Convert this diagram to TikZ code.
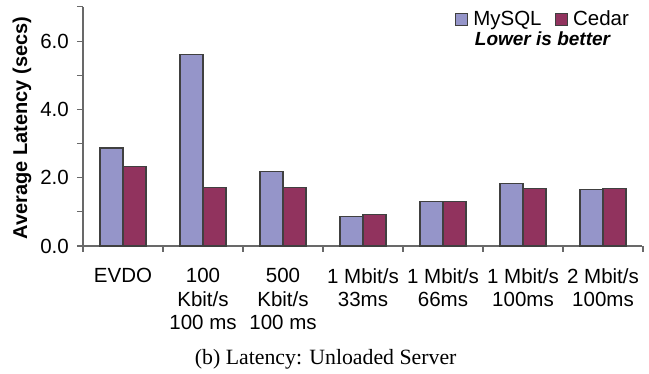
\documentclass[tikz,border=0pt]{standalone}
\usepackage{fontspec}
\setmainfont{Liberation Serif}
\setsansfont{Liberation Sans}
\usetikzlibrary{positioning}
\definecolor{mysqlcol}{RGB}{149,149,201}
\definecolor{cedarcol}{RGB}{145,51,94}
\definecolor{axiscol}{RGB}{105,105,105}

\begin{document}
\begin{tikzpicture}[x=1pt,y=1pt,
  chartfont/.style={font=\sffamily\fontsize{20.5}{23.5}\selectfont},
  catlabel/.style={chartfont,align=center,anchor=north,inner sep=0pt},
  barbox/.style={draw=black!75,line width=1.1pt},
  keybox/.style={draw=black!75,line width=1.1pt,minimum size=12pt,inner sep=0pt}]
  \useasboundingbox (-83,-128) rectangle (566,246);
  % axes
  \draw[axiscol,line width=1.2pt] (0,239) -- (0,0) -- (559,0);
  \foreach \v in {0,...,7}
    \draw[axiscol,line width=1.1pt] (-6,\v*34.15) -- (0,\v*34.15);
  \foreach \v in {0,2,4,6}
    \node[chartfont,anchor=east,inner sep=0pt] (tick\v) at (-14,\v*34.15) {\v.0};
  \foreach \i in {0,...,7}
    \draw[axiscol,line width=1.1pt] (\i*80,0) -- (\i*80,-6);
  \node[chartfont,font=\sffamily\bfseries\fontsize{20}{24}\selectfont,rotate=90] (ylabel) at (-61,118) {Average Latency (secs)};
  % bars: index / MySQL / Cedar
  \foreach \i/\m/\c in {0/2.87/2.34, 1/5.60/1.71, 2/2.17/1.70, 3/0.86/0.93,
                        4/1.29/1.30, 5/1.83/1.68, 6/1.65/1.69} {
    \draw[barbox,fill=mysqlcol] (\i*80+17,0) rectangle (\i*80+40,\m*34.15);
    \draw[barbox,fill=cedarcol] (\i*80+40,0) rectangle (\i*80+63,\c*34.15);
  }
  % categories
  \node[catlabel] (cat0) at (40,-22) {EVDO};
  \node[catlabel] (cat1) at (120,-22) {100\\Kbit/s\\100 ms};
  \node[catlabel] (cat2) at (200,-22) {500\\Kbit/s\\100 ms};
  \node[catlabel] (cat3) at (280,-22) {1 Mbit/s\\33ms};
  \node[catlabel] (cat4) at (360,-22) {1 Mbit/s\\66ms};
  \node[catlabel] (cat5) at (440,-22) {1 Mbit/s\\100ms};
  \node[catlabel] (cat6) at (520,-22) {2 Mbit/s\\100ms};
  % legend
  \node[keybox,fill=mysqlcol] (keymysql) at (378.5,226.8) {};
  \node[chartfont,anchor=base west,inner sep=0pt] (txtmysql) at ([xshift=5pt]keymysql.south east) {MySQL};
  \node[keybox,fill=cedarcol,anchor=south west] (keycedar) at ([xshift=13pt]keymysql.south -| txtmysql.east) {};
  \node[chartfont,anchor=base west,inner sep=0pt] (txtcedar) at ([xshift=5pt]keycedar.south east) {Cedar};
  \node[font=\sffamily\bfseries\itshape\fontsize{19}{22}\selectfont,anchor=base,inner sep=0pt] (better) at (459.5,200.3) {Lower is better};
  % caption
  \node[font=\fontsize{21.8}{25}\selectfont,anchor=base,inner sep=0pt] (caption) at (242.7,-119) {(b) Latency: Unloaded Server};
\end{tikzpicture}
\end{document}
